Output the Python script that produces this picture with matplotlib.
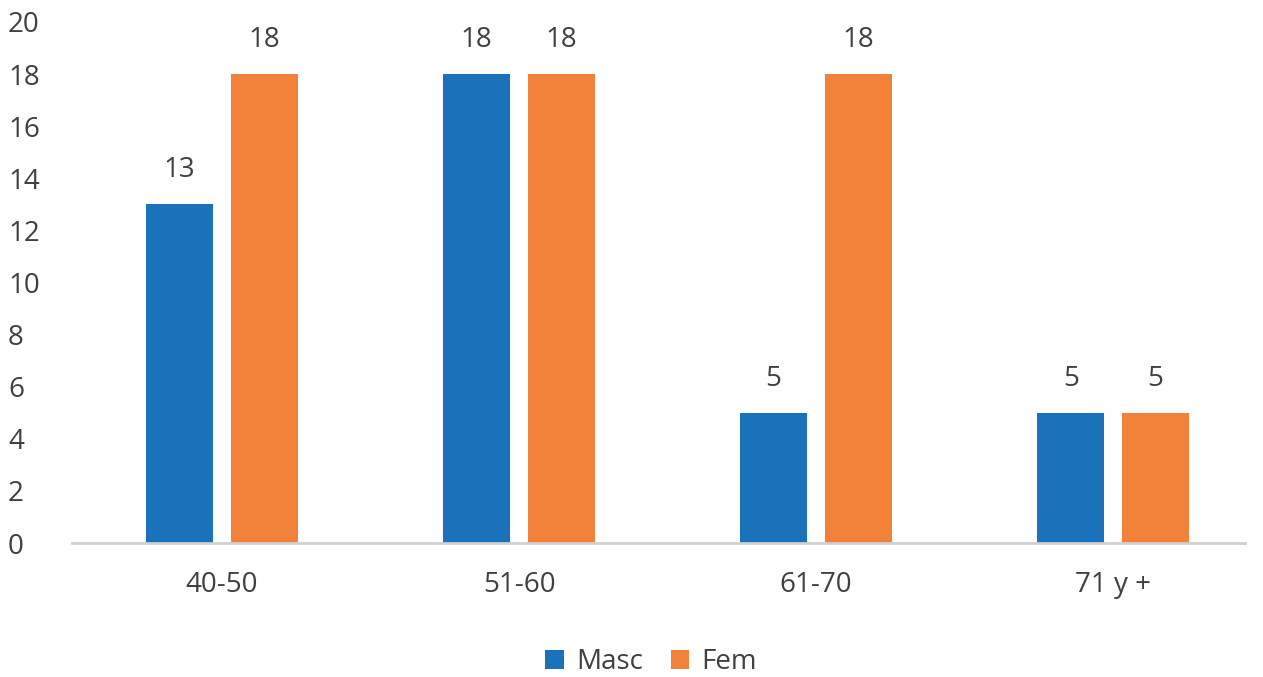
import matplotlib.pyplot as plt
import numpy as np

plt.rcParams['font.family'] = ['Open Sans', 'DejaVu Sans']

categories = ['40-50', '51-60', '61-70', '71 y +']
masc = [13, 18, 5, 5]
fem = [18, 18, 18, 5]

blue = '#1a72ba'
orange = '#f2823a'
text_col = '#404040'

fig = plt.figure(figsize=(12.63, 6.77), dpi=100)
ax = fig.add_axes([72 / 1263, 134 / 677, 1173 / 1263, 521 / 677])

x = np.arange(len(categories))
w = 0.226
b1 = ax.bar(x - 0.143, masc, w, color=blue, label='Masc')
b2 = ax.bar(x + 0.142, fem, w, color=orange, label='Fem')

for bars in (b1, b2):
    for r in bars:
        ax.text(r.get_x() + r.get_width() / 2, r.get_height() + 1.3,
                '%d' % r.get_height(), ha='center', va='center',
                fontsize=20, color=text_col)

ax.set_xlim(-0.505, 3.444)
ax.set_ylim(0, 20)
ax.set_yticks(range(0, 21, 2))
ax.set_xticks(x)
ax.set_xticklabels(categories)
ax.tick_params(axis='both', length=0, labelsize=20, labelcolor=text_col)
ax.tick_params(axis='x', pad=20)
ax.tick_params(axis='y', pad=46)
for lbl in ax.get_yticklabels():
    lbl.set_horizontalalignment('left')

for s in ['top', 'right', 'left']:
    ax.spines[s].set_visible(False)
ax.spines['bottom'].set_color('#d0d0d0')
ax.spines['bottom'].set_linewidth(2)

fig.legend(handles=[b1, b2], loc='center', bbox_to_anchor=(0.5155, 0.022),
           ncol=2, frameon=False, fontsize=20, handlelength=0.65,
           handleheight=0.65, handletextpad=0.45, columnspacing=1.0,
           labelcolor=text_col)

fig.savefig('out.png', dpi=100)
